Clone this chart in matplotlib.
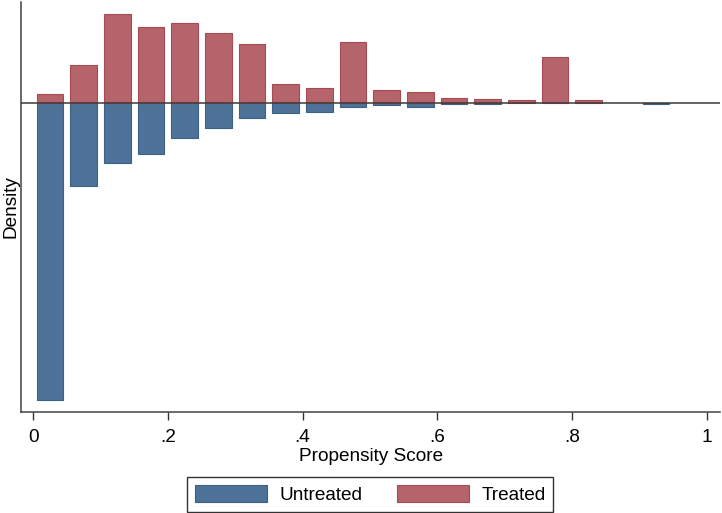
"""
Propensity score overlap: mirrored histogram, treated above / untreated below
"""
import matplotlib
matplotlib.use('Agg')
import matplotlib.pyplot as plt
import numpy as np

# bin centres (width 0.05) and densities
bins = np.arange(0.025, 1.0, 0.05)
untreated = np.array([9.89, 2.75, 1.99, 1.69, 1.16, 0.81, 0.48, 0.32, 0.30, 0.13,
                      0.07, 0.11, 0.02, 0.01, 0.0, 0.0, 0.0, 0.0, 0.02, 0.0])
treated = np.array([0.30, 1.28, 2.99, 2.54, 2.67, 2.34, 1.98, 0.64, 0.50, 2.03,
                    0.43, 0.37, 0.18, 0.13, 0.10, 1.53, 0.11, 0.0, 0.0, 0.0])
xticks = [0, 0.2, 0.4, 0.6, 0.8, 1]
xticklabels = ['0', '.2', '.4', '.6', '.8', '1']

plt.rcParams['font.family'] = ['Liberation Sans', 'DejaVu Sans']
fs = 13.7

fig = plt.figure(figsize=(7.22, 5.13), dpi=100)
ax = fig.add_axes([0.0295, 0.197, 0.968, 0.799])

blue = '#4e7298'
red = '#b4646a'
# empty bins are not drawn (no outline on the zero line)
mu = untreated > 0
mt = treated > 0
ax.bar(bins[mu], -untreated[mu], width=0.0397, color=blue, edgecolor='#3b6189',
       linewidth=0.8, label='Untreated', zorder=2)
ax.bar(bins[mt], treated[mt], width=0.0397, color=red, edgecolor='#a84a54',
       linewidth=0.8, label='Treated', zorder=2)
ax.axhline(0, color='#3a3a3a', linewidth=1.1, zorder=3)

ax.set_xlim(-0.0178, 1.0203)
ax.set_ylim(-10.29, 3.377)
ax.set_xticks(xticks)
ax.set_xticklabels(xticklabels)
ax.set_yticks([])
ax.tick_params(axis='x', length=6, width=1, color='#333333', labelsize=fs, pad=6)
for s in ['top', 'right']:
    ax.spines[s].set_visible(False)
for s in ['left', 'bottom']:
    ax.spines[s].set_color('#404040')
    ax.spines[s].set_linewidth(1.1)

ax.set_xlabel('Propensity Score', fontsize=fs, labelpad=2)
ax.set_ylabel('Density', fontsize=fs, labelpad=1)

h, l = ax.get_legend_handles_labels()
leg = fig.legend(h, l, loc='center', bbox_to_anchor=(0.513, 0.036), ncol=2,
                 fontsize=fs, frameon=True, fancybox=False, handlelength=3.8,
                 handleheight=1.0, handletextpad=0.65, columnspacing=1.8,
                 borderpad=0.4, edgecolor='black')
leg.get_frame().set_linewidth(1.0)

fig.savefig('out.png', dpi=100)
